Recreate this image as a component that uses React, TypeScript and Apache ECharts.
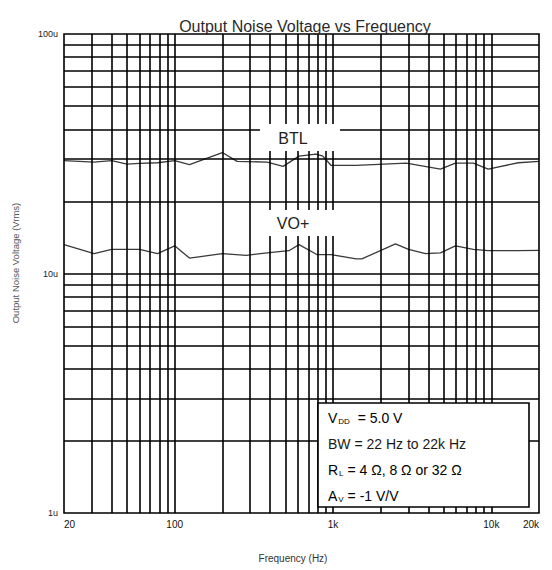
import React, { useEffect, useRef } from "react";
import * as echarts from "echarts";

// ---- data ----
const titleText = "Output Noise Voltage vs Frequency";
const xAxisTitle = "Frequency (Hz)";
const yAxisTitle = "Output Noise Voltage (Vrms)";

const btlFreq = [20, 31, 40, 50, 60, 78, 100, 124, 200, 248, 384, 484, 610, 780, 863, 970, 1400, 2900, 4770, 5930, 7700, 9550, 14800, 20000];
const btlNoise = [29.6, 29.2, 29.6, 28.6, 28.8, 29.0, 29.6, 28.5, 32.0, 29.4, 29.2, 28.0, 30.9, 31.5, 30.9, 28.3, 28.3, 28.9, 27.3, 28.9, 28.9, 27.3, 29.0, 29.4];

const voFreq = [20, 31, 40, 60, 78, 100, 124, 200, 283, 384, 527, 610, 790, 970, 1400, 1520, 2480, 3000, 3840, 4770, 5930, 7700, 9550, 14800, 20000];
const voNoise = [13.2, 12.1, 12.6, 12.6, 12.1, 13.05, 11.6, 12.1, 11.9, 12.2, 12.45, 13.2, 12.0, 12.0, 11.5, 11.5, 13.3, 12.6, 12.1, 12.2, 13.05, 12.6, 12.45, 12.45, 12.5];

const xGridValues = [30, 40, 50, 60, 70, 80, 90, 100, 200, 300, 400, 500, 600, 700, 800, 900, 1000, 2000, 3000, 4000, 5000, 6000, 7000, 8000, 9000, 10000];
const yGridValues = [2, 3, 4, 5, 6, 7, 8, 9, 10, 20, 30, 40, 50, 60, 70, 80, 90];

const seriesLabels = ["BTL", "VO+"];

const FONT = "'Liberation Sans', Arial, Helvetica, sans-serif";

export default function App() {
  const ref = useRef<HTMLDivElement>(null);

  useEffect(() => {
    if (!ref.current) return;
    const chart = echarts.init(ref.current, undefined, { renderer: "svg" });

    const gridLines = [
      ...xGridValues.map((v) => ({ xAxis: v })),
      ...yGridValues.map((v) => ({ yAxis: v })),
    ];

    const sub = { fontSize: 8, fontFamily: FONT, color: "#1a1a1a", verticalAlign: "bottom" as const, padding: [6, 0, 0, 1] };
    const main = { fontSize: 14, fontFamily: FONT, color: "#1a1a1a" };

    const option: any = {
      animation: false,
      backgroundColor: "#ffffff",
      grid: {
        left: 64,
        right: 13,
        top: 34,
        bottom: 57,
        show: true,
        borderColor: "#000",
        borderWidth: 1.6,
        backgroundColor: "transparent",
        z: 3,
      },
      xAxis: {
        type: "log",
        logBase: 10,
        min: 20,
        max: 20000,
        axisLine: { show: false },
        axisTick: { show: false },
        splitLine: { show: false },
        axisLabel: {
          fontSize: 10,
          fontFamily: FONT,
          color: "#111",
          margin: 6,
          alignMinLabel: "left",
          alignMaxLabel: "right",
          formatter: (v: number) => {
            const r = Math.round(v);
            return r >= 1000 ? r / 1000 + "k" : String(r);
          },
        },
      },
      yAxis: {
        type: "log",
        logBase: 10,
        min: 1,
        max: 100,
        axisLine: { show: false },
        axisTick: { show: false },
        splitLine: { show: false },
        axisLabel: {
          fontSize: 9,
          fontFamily: FONT,
          color: "#222",
          margin: 6,
          formatter: (v: number) => Math.round(v) + "u",
        },
      },
      series: [
        {
          name: "grid",
          type: "line",
          data: [[20, 1]],
          showSymbol: false,
          lineStyle: { opacity: 0 },
          silent: true,
          z: 1,
          markLine: {
            silent: true,
            symbol: ["none", "none"],
            label: { show: false },
            lineStyle: { color: "#000", width: 1.6, type: "solid" },
            emphasis: { disabled: true },
            data: gridLines,
          },
        },
        {
          name: seriesLabels[0],
          type: "line",
          data: btlFreq.map((f, i) => [f, btlNoise[i]]),
          showSymbol: false,
          symbol: "none",
          lineStyle: { color: "#3a3a3a", width: 1.3 },
          z: 2,
        },
        {
          name: seriesLabels[1],
          type: "line",
          data: voFreq.map((f, i) => [f, voNoise[i]]),
          showSymbol: false,
          symbol: "none",
          lineStyle: { color: "#3a3a3a", width: 1.3 },
          z: 2,
        },
      ],
      graphic: [
        {
          type: "text",
          z: 100,
          x: 305,
          y: 26,
          style: { text: titleText, fontSize: 16, fontFamily: FONT, fill: "#2a2a2a", align: "center", verticalAlign: "middle" },
        },
        {
          type: "text",
          z: 100,
          x: 293,
          y: 558,
          style: { text: xAxisTitle, fontSize: 10, fontFamily: FONT, fill: "#333", align: "center", verticalAlign: "middle" },
        },
        {
          type: "text",
          z: 100,
          x: 15,
          y: 263,
          rotation: Math.PI / 2,
          style: { text: yAxisTitle, fontSize: 9.5, fontFamily: FONT, fill: "#555", align: "center", verticalAlign: "middle" },
        },
        // label backgrounds + labels
        { type: "rect", z: 100, shape: { x: 260, y: 124, width: 80, height: 27 }, style: { fill: "#fff" } },
        {
          type: "text",
          z: 101,
          x: 293,
          y: 138,
          style: { text: seriesLabels[0], fontSize: 16, fontFamily: FONT, fill: "#222", align: "center", verticalAlign: "middle" },
        },
        { type: "rect", z: 100, shape: { x: 260, y: 210, width: 80, height: 26 }, style: { fill: "#fff" } },
        {
          type: "text",
          z: 101,
          x: 293,
          y: 223,
          style: { text: seriesLabels[1], fontSize: 16, fontFamily: FONT, fill: "#222", align: "center", verticalAlign: "middle" },
        },
        // conditions box
        {
          type: "rect",
          z: 100,
          shape: { x: 318, y: 403, width: 211, height: 104 },
          style: { fill: "#fff", stroke: "#000", lineWidth: 1.6 },
        },
        {
          type: "text",
          z: 101,
          x: 328,
          y: 418,
          style: { text: "{m|V}{s|DD}{m|  = 5.0 V}", rich: { m: main, s: sub }, verticalAlign: "middle" },
        },
        {
          type: "text",
          z: 101,
          x: 328,
          y: 444,
          style: { text: "BW = 22 Hz to 22k Hz", fontSize: 14, fontFamily: FONT, fill: "#1a1a1a", verticalAlign: "middle" },
        },
        {
          type: "text",
          z: 101,
          x: 328,
          y: 470,
          style: { text: "{m|R}{s|L}{m| = 4 Ω, 8 Ω or 32 Ω}", rich: { m: main, s: sub }, verticalAlign: "middle" },
        },
        {
          type: "text",
          z: 101,
          x: 328,
          y: 496,
          style: { text: "{m|A}{s|V}{m| = -1 V/V}", rich: { m: main, s: sub }, verticalAlign: "middle" },
        },
      ],
    };

    chart.setOption(option);
    return () => chart.dispose();
  }, []);

  return <div ref={ref} style={{ width: 552, height: 570, position: "absolute", left: 0, top: 0 }} />;
}
